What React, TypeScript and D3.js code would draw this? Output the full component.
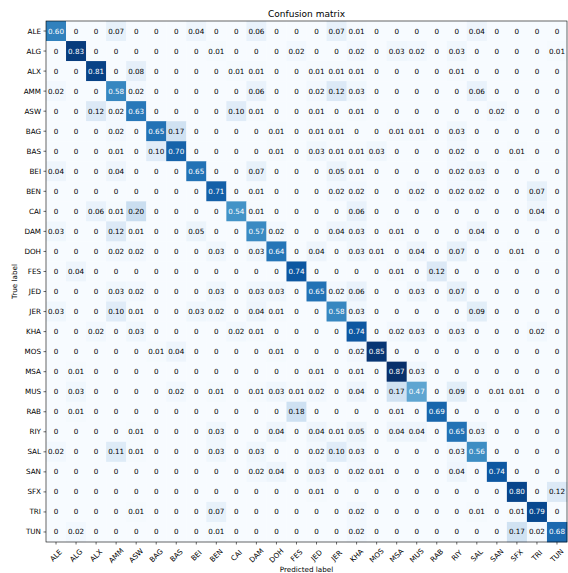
import { useEffect, useRef } from 'react'
import * as d3 from 'd3'

const classes = ['ALE', 'ALG', 'ALX', 'AMM', 'ASW', 'BAG', 'BAS', 'BEI', 'BEN', 'CAI', 'DAM', 'DOH', 'FES',
    'JED', 'JER', 'KHA', 'MOS', 'MSA', 'MUS', 'RAB', 'RIY', 'SAL', 'SAN', 'SFX', 'TRI', 'TUN']

// rows = true label, columns = predicted label (normalized)
const cm = [
    [0.60, 0, 0, 0.07, 0, 0, 0, 0.04, 0, 0, 0.06, 0, 0, 0, 0.07, 0.01, 0, 0, 0, 0, 0, 0.04, 0, 0, 0, 0],
    [0, 0.83, 0, 0, 0, 0, 0, 0, 0.01, 0, 0, 0, 0.02, 0, 0, 0.02, 0, 0.03, 0.02, 0, 0.03, 0, 0, 0, 0, 0.01],
    [0, 0, 0.81, 0, 0.08, 0, 0, 0, 0, 0.01, 0.01, 0, 0, 0.01, 0.01, 0.01, 0, 0, 0, 0, 0.01, 0, 0, 0, 0, 0],
    [0.02, 0, 0, 0.58, 0.02, 0, 0, 0, 0, 0, 0.06, 0, 0, 0.02, 0.12, 0.03, 0, 0, 0, 0, 0, 0.06, 0, 0, 0, 0],
    [0, 0, 0.12, 0.02, 0.63, 0, 0, 0, 0, 0.10, 0.01, 0, 0, 0.01, 0, 0.01, 0, 0, 0, 0, 0, 0, 0.02, 0, 0, 0],
    [0, 0, 0, 0.02, 0, 0.65, 0.17, 0, 0, 0, 0, 0.01, 0, 0.01, 0.01, 0, 0, 0.01, 0.01, 0, 0.03, 0, 0, 0, 0, 0],
    [0, 0, 0, 0.01, 0, 0.10, 0.70, 0, 0, 0, 0, 0.01, 0, 0.03, 0.01, 0.01, 0.03, 0, 0, 0, 0.02, 0, 0, 0.01, 0, 0],
    [0.04, 0, 0, 0.04, 0, 0, 0, 0.65, 0, 0, 0.07, 0, 0, 0, 0.05, 0.01, 0, 0, 0, 0, 0.02, 0.03, 0, 0, 0, 0],
    [0, 0, 0, 0, 0, 0, 0, 0, 0.71, 0, 0.01, 0, 0, 0, 0.02, 0.02, 0, 0, 0.02, 0, 0.02, 0.02, 0, 0, 0.07, 0],
    [0, 0, 0.06, 0.01, 0.20, 0, 0, 0, 0, 0.54, 0.01, 0, 0, 0, 0, 0.06, 0, 0, 0, 0, 0, 0, 0, 0, 0.04, 0],
    [0.03, 0, 0, 0.12, 0.01, 0, 0, 0.05, 0, 0, 0.57, 0.02, 0, 0, 0.04, 0.03, 0, 0.01, 0, 0, 0, 0.04, 0, 0, 0, 0],
    [0, 0, 0, 0.02, 0.02, 0, 0, 0, 0.03, 0, 0.03, 0.64, 0, 0.04, 0, 0.03, 0.01, 0, 0.04, 0, 0.07, 0, 0, 0.01, 0, 0],
    [0, 0.04, 0, 0, 0, 0, 0, 0, 0, 0, 0, 0, 0.74, 0, 0, 0, 0, 0.01, 0, 0.12, 0, 0, 0, 0, 0, 0],
    [0, 0, 0, 0.03, 0.02, 0, 0, 0, 0.03, 0, 0.03, 0.03, 0, 0.65, 0.02, 0.06, 0, 0, 0.03, 0, 0.07, 0, 0, 0, 0, 0],
    [0.03, 0, 0, 0.10, 0.01, 0, 0, 0.03, 0.02, 0, 0.04, 0.01, 0, 0, 0.58, 0.03, 0, 0, 0, 0, 0, 0.09, 0, 0, 0, 0],
    [0, 0, 0.02, 0, 0.03, 0, 0, 0, 0, 0.02, 0.01, 0, 0, 0, 0, 0.74, 0, 0.02, 0.03, 0, 0.03, 0, 0, 0, 0.02, 0],
    [0, 0, 0, 0, 0, 0.01, 0.04, 0, 0, 0, 0, 0.01, 0, 0, 0, 0.02, 0.85, 0, 0, 0, 0, 0, 0, 0, 0, 0],
    [0, 0.01, 0, 0, 0, 0, 0, 0, 0, 0, 0, 0, 0, 0.01, 0, 0.01, 0, 0.87, 0.03, 0, 0, 0, 0, 0, 0, 0],
    [0, 0.03, 0, 0, 0, 0, 0.02, 0, 0.01, 0, 0.01, 0.03, 0.01, 0.02, 0, 0.04, 0, 0.17, 0.47, 0, 0.09, 0, 0.01, 0.01, 0, 0],
    [0, 0.01, 0, 0, 0, 0, 0, 0, 0, 0, 0, 0, 0.18, 0, 0, 0, 0, 0.01, 0, 0.69, 0, 0, 0, 0, 0, 0],
    [0, 0, 0, 0, 0.01, 0, 0, 0, 0.03, 0, 0, 0.04, 0, 0.04, 0.01, 0.05, 0, 0.04, 0.04, 0, 0.65, 0.03, 0, 0, 0, 0],
    [0.02, 0, 0, 0.11, 0.01, 0, 0, 0, 0.03, 0, 0.03, 0, 0, 0.02, 0.10, 0.03, 0, 0, 0, 0, 0.03, 0.56, 0, 0, 0, 0],
    [0, 0, 0, 0, 0, 0, 0, 0, 0, 0, 0.02, 0.04, 0, 0.03, 0, 0.02, 0.01, 0, 0, 0, 0.04, 0, 0.74, 0, 0, 0],
    [0, 0, 0, 0, 0, 0, 0, 0, 0, 0, 0, 0, 0, 0.01, 0, 0, 0, 0, 0, 0, 0, 0, 0, 0.80, 0, 0.12],
    [0, 0, 0, 0, 0.01, 0, 0, 0, 0.07, 0, 0, 0, 0, 0, 0, 0.02, 0, 0, 0, 0, 0, 0.01, 0, 0.01, 0.79, 0],
    [0, 0.02, 0, 0, 0, 0, 0, 0, 0.01, 0, 0, 0, 0, 0, 0, 0.02, 0, 0, 0, 0, 0, 0, 0, 0.17, 0.02, 0.68],
]

// matplotlib "Blues"
const blues = ['#f7fbff', '#deebf7', '#c6dbef', '#9ecae1', '#6baed6', '#4292c6', '#2171b5', '#08519c', '#08306b']

export default function App() {
    const svgRef = useRef<SVGSVGElement>(null)

    useEffect(() => {
        if (!svgRef.current) return

        const svg = d3.select(svgRef.current)
        const width = 568
        const height = 573
        const margin = { top: 21, right: 1, bottom: 31, left: 46 }
        const font = 'DejaVu Sans, sans-serif'
        const fs = 7.2

        svg.attr('width', width).attr('height', height)
        svg.selectAll('*').remove()

        const x = d3.scaleBand().domain(classes).range([margin.left, width - margin.right])
        const y = d3.scaleBand().domain(classes).range([margin.top, height - margin.bottom])

        const vmax = d3.max(cm.flat()) || 1
        const color = d3.scaleLinear<string>()
            .domain(blues.map((_, i) => (i / (blues.length - 1)) * vmax))
            .range(blues)
            .interpolate(d3.interpolateRgb)
        const thresh = vmax / 2

        const cells = cm.flatMap((row, i) => row.map((v, j) => ({ t: classes[i], p: classes[j], v })))

        svg.append('g')
            .selectAll('rect')
            .data(cells)
            .enter()
            .append('rect')
            .attr('x', d => x(d.p) || 0)
            .attr('y', d => y(d.t) || 0)
            .attr('width', x.bandwidth() + 0.3)
            .attr('height', y.bandwidth() + 0.3)
            .attr('fill', d => color(d.v))

        svg.append('g')
            .selectAll('text')
            .data(cells)
            .enter()
            .append('text')
            .attr('x', d => (x(d.p) || 0) + x.bandwidth() / 2)
            .attr('y', d => (y(d.t) || 0) + y.bandwidth() / 2)
            .attr('text-anchor', 'middle')
            .attr('dominant-baseline', 'central')
            .attr('font-family', font)
            .attr('font-size', fs)
            .attr('fill', d => (d.v > thresh ? '#fff' : '#000'))
            .text(d => (d.v === 0 ? '0' : d.v.toFixed(2)))

        // frame
        svg.append('rect')
            .attr('x', margin.left)
            .attr('y', margin.top)
            .attr('width', width - margin.right - margin.left)
            .attr('height', height - margin.bottom - margin.top)
            .attr('fill', 'none')
            .attr('stroke', '#000')
            .attr('stroke-width', 0.6)

        // y ticks
        const yt = svg.append('g')
        classes.forEach(c => {
            const cy = (y(c) || 0) + y.bandwidth() / 2
            yt.append('line')
                .attr('x1', margin.left - 2.5).attr('x2', margin.left)
                .attr('y1', cy).attr('y2', cy)
                .attr('stroke', '#000').attr('stroke-width', 0.6)
            yt.append('text')
                .attr('x', margin.left - 5)
                .attr('y', cy)
                .attr('text-anchor', 'end')
                .attr('dominant-baseline', 'central')
                .attr('font-family', font)
                .attr('font-size', fs)
                .attr('fill', '#000')
                .text(c)
        })

        // x ticks, rotated 45deg
        const xt = svg.append('g')
        const bottom = height - margin.bottom
        classes.forEach(c => {
            const cx = (x(c) || 0) + x.bandwidth() / 2
            xt.append('line')
                .attr('x1', cx).attr('x2', cx)
                .attr('y1', bottom).attr('y2', bottom + 2.5)
                .attr('stroke', '#000').attr('stroke-width', 0.6)
            xt.append('text')
                .attr('transform', `translate(${cx},${bottom + 13.5}) rotate(-45)`)
                .attr('text-anchor', 'middle')
                .attr('dominant-baseline', 'central')
                .attr('font-family', font)
                .attr('font-size', fs)
                .attr('fill', '#000')
                .text(c)
        })

        svg.append('text')
            .attr('x', (margin.left + width - margin.right) / 2)
            .attr('y', margin.top - 4.5)
            .attr('text-anchor', 'middle')
            .attr('font-family', font)
            .attr('font-size', 9)
            .attr('fill', '#000')
            .text('Confusion matrix')

        svg.append('text')
            .attr('x', (margin.left + width - margin.right) / 2)
            .attr('y', 571.5)
            .attr('text-anchor', 'middle')
            .attr('font-family', font)
            .attr('font-size', fs)
            .attr('fill', '#000')
            .text('Predicted label')

        svg.append('text')
            .attr('transform', `translate(14,${(margin.top + bottom) / 2}) rotate(-90)`)
            .attr('text-anchor', 'middle')
            .attr('dominant-baseline', 'central')
            .attr('font-family', font)
            .attr('font-size', fs)
            .attr('fill', '#000')
            .text('True label')
    }, [])

    return <svg ref={svgRef} style={{ position: 'absolute', left: 0, top: 0, display: 'block' }} />
}
